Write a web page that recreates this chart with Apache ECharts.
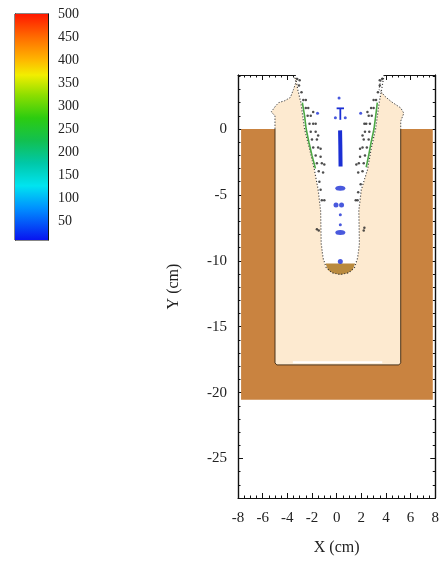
<!DOCTYPE html>
<html>
<head>
<meta charset="utf-8">
<script src="https://cdn.jsdelivr.net/npm/echarts@6/dist/echarts.min.js"></script>
<style>
  html, body { margin: 0; background: #fff; }
  #chart { width: 442px; height: 564px; }
</style>
</head>
<body>
<div id="chart"></div>
<script>
// colour bar scale
const colorbarRange = [10, 500];
const colorbarTicks = [50, 100, 150, 200, 250, 300, 350, 400, 450, 500];
const colorbarMinorTicks = [20, 30, 40, 60, 70, 80, 90, 110, 120, 130, 140, 160, 170, 180, 190,
  210, 220, 230, 240, 260, 270, 280, 290, 310, 320, 330, 340, 360, 370, 380, 390,
  410, 420, 430, 440, 460, 470, 480, 490];

// y axis ticks (cm)
const yMajorTicks = [-25, -20, -15, -10, -5, 0];
const yMinorTicks = [-28, -27, -26, -24, -23, -22, -21, -19, -18, -17, -16, -14, -13, -12, -11,
  -9, -8, -7, -6, -4, -3, -2, -1, 1, 2, 3, 4];

// target block (brown) and filled region (beige), X/Y in cm
const targetOutline = [[-7.75, 0], [7.8, 0], [7.8, -20.55], [-7.75, -20.55]];
const leftLip = [[-5.0, 0], [-5.0, 1.0], [-5.3, 1.3], [-4.95, 1.75], [-4.7, 2.0], [-4.2, 2.15],
  [-3.75, 2.4], [-3.5, 3.0], [-3.3, 3.55], [-3.4, 3.9]];
const rightLip = [[3.7, 3.9], [3.5, 3.4], [3.45, 3.0], [3.9, 2.5], [4.4, 2.1], [4.8, 1.85],
  [5.2, 1.6], [5.45, 1.2], [5.2, 0.6], [5.2, 0]];
const innerFloor = [[5.2, -17.75], [5.05, -17.9], [-4.85, -17.9], [-5.0, -17.75]];
const floorStrip = [[-3.55, -17.7], [3.7, -17.7]];

// penetration cavity
const cavityOutline = [[-3.35, 4.1], [-3.15, 3.0], [-2.9, 2.0], [-2.6, 0.0], [-2.2, -1.5],
  [-1.8, -3.1], [-1.5, -4.6], [-1.3, -6.2], [-1.25, -8.7], [-1.1, -9.8], [-0.85, -10.5],
  [-0.4, -10.9], [0.3, -11.05], [1.0, -10.9], [1.45, -10.5], [1.7, -9.8], [1.85, -8.7],
  [1.8, -6.2], [2.0, -4.6], [2.5, -3.1], [2.8, -1.5], [3.16, 0.0], [3.45, 2.0], [3.65, 3.0],
  [3.85, 4.1]];
const plugOutline = [[-0.9, -10.2], [1.5, -10.2], [1.3, -10.7], [0.9, -10.95], [0.3, -11.05],
  [-0.3, -10.95], [-0.7, -10.7]];

// contour traces along the cavity wall
const greenLeft = [[-2.78, 2.0], [-2.6, 1.0], [-2.47, 0.0], [-2.25, -1.0], [-2.0, -2.0], [-1.72, -3.0]];
const greenRight = [[3.3, 2.0], [3.2, 1.2], [3.03, 0.0], [2.8, -1.0], [2.6, -2.0], [2.4, -2.9]];

// debris points
const debrisPoints = [
  [-3.2, 3.8], [-3.0, 3.7], [-3.05, 3.3], [-2.85, 2.8], [-2.7, 2.2], [-2.5, 2.2], [-2.5, 1.6],
  [-2.3, 1.6], [-2.35, 1.0], [-2.1, 1.0], [-1.9, 1.3], [-2.2, 0.4], [-1.9, 0.4], [-1.7, 0.4],
  [-2.1, -0.2], [-1.7, -0.2], [-1.5, -0.5], [-2.0, -0.8], [-1.6, -0.8], [-1.9, -1.4],
  [-1.5, -1.4], [-1.3, -1.5], [-1.7, -2.0], [-1.3, -2.1], [-1.6, -2.6], [-1.2, -2.6],
  [-1.0, -2.7], [-1.45, -3.2], [-1.1, -3.3], [-1.4, -4.0], [-1.3, -4.6], [-1.2, -5.4],
  [-1.0, -5.4], [-1.6, -7.6], [-1.45, -7.7],
  [3.7, 3.8], [3.5, 3.7], [3.5, 3.3], [3.35, 2.8], [3.2, 2.2], [3.0, 2.2], [3.0, 1.6],
  [2.8, 1.6], [2.85, 1.0], [2.6, 1.0], [2.5, 1.3], [2.7, 0.4], [2.4, 0.4], [2.25, 0.4],
  [2.65, -0.2], [2.3, -0.2], [2.1, -0.5], [2.6, -0.8], [2.2, -0.8], [2.45, -1.4],
  [2.1, -1.4], [1.9, -1.5], [2.3, -2.0], [1.9, -2.1], [2.2, -2.6], [1.8, -2.6],
  [1.6, -2.7], [2.1, -3.2], [1.75, -3.3], [1.95, -4.2], [1.75, -4.8], [1.7, -5.4],
  [1.55, -5.4], [2.25, -7.5], [2.2, -7.7]
];

// blue marks
const blueDots = [[0.2, 2.35], [-1.55, 1.2], [1.95, 1.2], [-0.1, 0.85], [0.7, 0.85],
  [0.3, -6.5], [0.3, -7.27]];
const blueBlobs = [[-0.05, -5.76], [0.4, -5.76], [0.3, -10.05]];
const blueWide = [[0.3, -4.5], [0.3, -7.85]];
const blueCrownBar = [[0.0, 1.57], [0.6, 1.57]];
const blueCrownStem = [[0.3, 1.57], [0.3, 0.7]];
const blueColumn = [[0.28, -0.1], [0.3, -1.2], [0.32, -2.85]];

const chart = echarts.init(document.getElementById('chart'));
const serif = "'Liberation Serif', 'DejaVu Serif', serif";

function shapeSeries(points, kind, style, z) {
  return {
    type: 'custom',
    xAxisIndex: 0,
    yAxisIndex: 0,
    silent: true,
    z: z,
    data: [[0, 0]],
    renderItem: (params, api) => ({
      type: kind,
      shape: { points: points.map(p => api.coord(p)) },
      style: style
    })
  };
}

const mainX = (pos, showLabel) => ({
  type: 'value', gridIndex: 0, position: pos, min: -8, max: 8, interval: 2,
  name: showLabel ? 'X (cm)' : '', nameLocation: 'middle', nameGap: 42,
  nameTextStyle: { fontFamily: serif, fontSize: 16, color: '#222' },
  axisLine: { show: true, onZero: false, lineStyle: { color: '#111', width: 1.2 } },
  axisTick: { inside: true, length: 5, lineStyle: { color: '#111' } },
  minorTick: { show: true, splitNumber: 4, length: 2.5, lineStyle: { color: '#111' } },
  axisLabel: { show: showLabel, fontFamily: serif, fontSize: 15, color: '#222', margin: 13 },
  splitLine: { show: false }
});

const mainY = (pos, values, len, showLabel) => ({
  type: 'value', gridIndex: 0, position: pos, min: -28, max: 4.1,
  name: showLabel ? 'Y (cm)' : '', nameLocation: 'middle', nameGap: 56,
  nameTextStyle: { fontFamily: serif, fontSize: 16, color: '#222' },
  axisLine: { show: true, onZero: false, lineStyle: { color: '#111', width: 1.2 } },
  axisTick: { inside: true, length: len, customValues: values, lineStyle: { color: '#111' } },
  axisLabel: { show: showLabel, customValues: values, fontFamily: serif, fontSize: 15, color: '#222', margin: 11 },
  splitLine: { show: false }
});

const barY = (pos, values, len, showLabel) => ({
  type: 'value', gridIndex: 1, position: pos, min: colorbarRange[0], max: colorbarRange[1],
  axisLine: { show: true, lineStyle: { color: '#111' } },
  axisTick: { inside: true, length: len, customValues: values, lineStyle: { color: '#222' } },
  axisLabel: { show: showLabel, customValues: values, fontFamily: serif, fontSize: 14, color: '#222', margin: 10 },
  splitLine: { show: false }
});

const option = {
  animation: false,
  backgroundColor: '#fff',
  grid: [
    { left: 238, right: 5, top: 75, bottom: 66 },
    { left: 15, top: 14, width: 33, height: 226, show: true, borderColor: '#111', borderWidth: 1 }
  ],
  xAxis: [
    mainX('bottom', true),
    mainX('top', false),
    { type: 'category', gridIndex: 1, data: ['v'], show: false }
  ],
  yAxis: [
    mainY('left', yMajorTicks, 5, true),
    mainY('left', yMinorTicks, 2.5, false),
    mainY('right', yMajorTicks, 5, false),
    mainY('right', yMinorTicks, 2.5, false),
    barY('right', colorbarTicks, 5, true),
    barY('right', colorbarMinorTicks, 2, false),
    barY('left', colorbarTicks, 5, false)
  ],
  series: [
    {
      type: 'bar', xAxisIndex: 2, yAxisIndex: 4, barWidth: '100%', silent: true, z: 1,
      data: [colorbarRange[1]],
      itemStyle: {
        color: new echarts.graphic.LinearGradient(0, 0, 0, 1, [
          { offset: 0, color: '#ff1800' },
          { offset: 0.1, color: '#ff6a00' },
          { offset: 0.2, color: '#ffb400' },
          { offset: 0.27, color: '#f2ee00' },
          { offset: 0.36, color: '#8cde00' },
          { offset: 0.46, color: '#2ccc10' },
          { offset: 0.56, color: '#12c050' },
          { offset: 0.66, color: '#00c8a8' },
          { offset: 0.76, color: '#00e4f0' },
          { offset: 0.86, color: '#0090ff' },
          { offset: 1, color: '#0814f0' }
        ])
      }
    },
    shapeSeries(targetOutline, 'polygon', { fill: '#c98340' }, 1),
    shapeSeries(leftLip.concat(rightLip, innerFloor), 'polygon', { fill: '#fdead0' }, 2),
    shapeSeries(cavityOutline, 'polygon', { fill: '#ffffff' }, 3),
    shapeSeries(plugOutline, 'polygon', { fill: '#b98a3e' }, 4),
    shapeSeries([[-5.0, 0]].concat(innerFloor.slice().reverse(), [[5.2, 0]]), 'polyline',
      { fill: null, stroke: '#4a3318', lineWidth: 1 }, 4),
    shapeSeries(floorStrip, 'polyline', { fill: null, stroke: '#ffffff', lineWidth: 2 }, 4),
    shapeSeries(leftLip, 'polyline', { fill: null, stroke: '#555', lineWidth: 1, lineDash: [1.5, 1.5] }, 4),
    shapeSeries(rightLip, 'polyline', { fill: null, stroke: '#555', lineWidth: 1, lineDash: [1.5, 1.5] }, 4),
    shapeSeries(cavityOutline, 'polyline', { fill: null, stroke: '#333', lineWidth: 1.2, lineDash: [1, 2] }, 5),
    shapeSeries(greenLeft, 'polyline', { fill: null, stroke: '#4ea844', lineWidth: 1.6 }, 5),
    shapeSeries(greenRight, 'polyline', { fill: null, stroke: '#4ea844', lineWidth: 1.6 }, 5),
    {
      type: 'scatter', xAxisIndex: 0, yAxisIndex: 0, silent: true, z: 6,
      symbolSize: 2.5, itemStyle: { color: '#222' }, data: debrisPoints
    },
    shapeSeries(blueColumn, 'polyline', { fill: null, stroke: '#1b2fd4', lineWidth: 4 }, 7),
    shapeSeries(blueCrownBar, 'polyline', { fill: null, stroke: '#1b2fd4', lineWidth: 1.8 }, 7),
    shapeSeries(blueCrownStem, 'polyline', { fill: null, stroke: '#1b2fd4', lineWidth: 1.8 }, 7),
    {
      type: 'scatter', xAxisIndex: 0, yAxisIndex: 0, silent: true, z: 7,
      symbolSize: 3, itemStyle: { color: '#1b2fd4' }, data: blueDots
    },
    {
      type: 'scatter', xAxisIndex: 0, yAxisIndex: 0, silent: true, z: 7,
      symbolSize: 5, itemStyle: { color: '#1b2fd4' }, data: blueBlobs
    },
    {
      type: 'scatter', xAxisIndex: 0, yAxisIndex: 0, silent: true, z: 7,
      symbolSize: [10, 5], itemStyle: { color: '#1b2fd4' }, data: blueWide
    }
  ]
};

chart.setOption(option);
</script>
</body>
</html>
